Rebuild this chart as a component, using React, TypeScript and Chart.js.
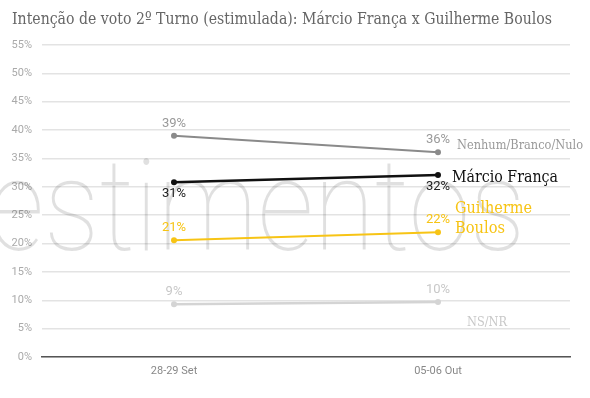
import React, { useEffect, useRef } from "react";
import { Chart, registerables } from "chart.js";

Chart.register(...registerables);

const categories = ["28-29 Set", "05-06 Out"];
const nenhum = [39, 36.1];
const marcio = [30.8, 32.1];
const guilherme = [20.6, 22];
const nsnr = [9.3, 9.7];
const nenhumLabels = ["39%", "36%"];
const marcioLabels = ["31%", "32%"];
const guilhermeLabels = ["21%", "22%"];
const nsnrLabels = ["9%", "10%"];
const yTicks = [0, 5, 10, 15, 20, 25, 30, 35, 40, 45, 50, 55];
const title = "Intenção de voto 2º Turno (estimulada): Márcio França x Guilherme Boulos";

const seriesNames = ["Nenhum/Branco/Nulo", "Márcio França", "Guilherme\nBoulos", "NS/NR"];
const colors = ["#8a8a8a", "#111111", "#f7c415", "#d4d4d4"];
const labelColors = ["#999999", "#222222", "#f7c415", "#c8c8c8"];

function fitText(ctx: any, text: string, x: number, y: number, width: number) {
  const w = ctx.measureText(text).width;
  ctx.save();
  ctx.translate(x, y);
  ctx.scale(width / w, 1);
  ctx.fillText(text, 0, 0);
  ctx.restore();
}

export default function App() {
  const ref = useRef<HTMLCanvasElement>(null);
  useEffect(() => {
    document.body.style.margin = "0";
    const labelSets = [nenhumLabels, marcioLabels, guilhermeLabels, nsnrLabels];
    const below = [false, true, false, false];

    const watermark = {
      id: "watermark",
      beforeDatasetsDraw(chart: any) {
        const ctx = chart.ctx;
        ctx.save();
        ctx.font = "100 128px Roboto";
        ctx.fillStyle = "rgba(0,0,0,0.12)";
        ctx.textBaseline = "alphabetic";
        ctx.textAlign = "left";
        ctx.translate(-12, 250);
        ctx.scale(0.87, 1);
        ctx.fillText("estimentos", 0, 0);
        ctx.restore();
      },
    };

    const labelsPlugin = {
      id: "labelsPlugin",
      afterDatasetsDraw(chart: any) {
        const ctx = chart.ctx;
        ctx.save();
        ctx.font = "17px 'DejaVu Serif'";
        ctx.fillStyle = "#666666";
        ctx.textAlign = "left";
        ctx.textBaseline = "middle";
        fitText(ctx, title, 12, 20, 540);
        chart.data.datasets.forEach((ds: any, i: number) => {
          const meta = chart.getDatasetMeta(i);
          ctx.font = "13px Roboto";
          ctx.fillStyle = labelColors[i];
          ctx.textAlign = "center";
          meta.data.forEach((pt: any, j: number) => {
            if (below[i]) {
              ctx.textBaseline = "top";
              ctx.fillText(labelSets[i][j], pt.x, pt.y + 5);
            } else {
              ctx.textBaseline = "bottom";
              ctx.fillText(labelSets[i][j], pt.x, pt.y - 6);
            }
          });
          const last = meta.data[meta.data.length - 1];
          ctx.textAlign = "left";
          ctx.textBaseline = "middle";
          const name = seriesNames[i];
          if (i === 0) {
            ctx.font = "13px 'DejaVu Serif'";
            ctx.fillStyle = "#999999";
            fitText(ctx, name, last.x + 19, last.y - 7, 126);
          } else if (i === 1) {
            ctx.font = "17px 'DejaVu Serif'";
            ctx.fillStyle = "#111111";
            fitText(ctx, name, last.x + 14, last.y + 3, 106);
          } else if (i === 2) {
            ctx.font = "16px 'DejaVu Serif'";
            ctx.fillStyle = "#f7c415";
            const lines = name.split("\n");
            fitText(ctx, lines[0], last.x + 17, last.y - 23, 77);
            fitText(ctx, lines[1], last.x + 17, last.y - 3, 50);
          } else {
            ctx.font = "13px 'DejaVu Serif'";
            ctx.fillStyle = "#c8c8c8";
            fitText(ctx, name, last.x + 29, last.y + 21, 40);
          }
        });
        ctx.restore();
      },
    };

    const mk = (label: string, data: number[], c: string, w: number) => ({
      label,
      data,
      borderColor: c,
      backgroundColor: c,
      borderWidth: w,
      pointRadius: 3,
      pointBorderWidth: 0,
      pointBackgroundColor: c,
      tension: 0,
    });

    const chart = new Chart(ref.current!, {
      type: "line",
      data: {
        labels: categories,
        datasets: [
          mk(seriesNames[0], nenhum, colors[0], 2),
          mk(seriesNames[1], marcio, colors[1], 2.5),
          mk(seriesNames[2], guilherme, colors[2], 2),
          mk(seriesNames[3], nsnr, colors[3], 2.5),
        ],
      },
      options: {
        animation: false,
        responsive: false,
        layout: { padding: { top: 45, right: 20, left: 0, bottom: 0 } },
        plugins: {
          legend: { display: false },
          tooltip: { enabled: false },
          title: { display: false },
        },
        scales: {
          x: {
            offset: true,
            grid: { display: false, drawTicks: false },
            border: { display: true, color: "#555555", width: 1.5 },
            ticks: {
              color: "#888888",
              font: { family: "Roboto", size: 11 },
              padding: 8,
            },
            afterFit: (s: any) => {
              s.height = 41;
            },
          },
          y: {
            min: 0,
            max: 55,
            afterBuildTicks: (s: any) => {
              s.ticks = yTicks.map((v) => ({ value: v }));
            },
            grid: { color: "#e3e3e3", drawTicks: false, lineWidth: 1.5 },
            border: { display: false },
            ticks: {
              color: "#aaaaaa",
              font: { family: "Roboto", size: 11 },
              padding: 10,
              callback: (v: any) => v + "%",
            },
            afterFit: (s: any) => {
              s.width = 42;
            },
          },
        },
      },
      plugins: [watermark, labelsPlugin],
    });
    return () => chart.destroy();
  }, []);
  return <canvas ref={ref} width={590} height={398} style={{ display: "block" }} />;
}
